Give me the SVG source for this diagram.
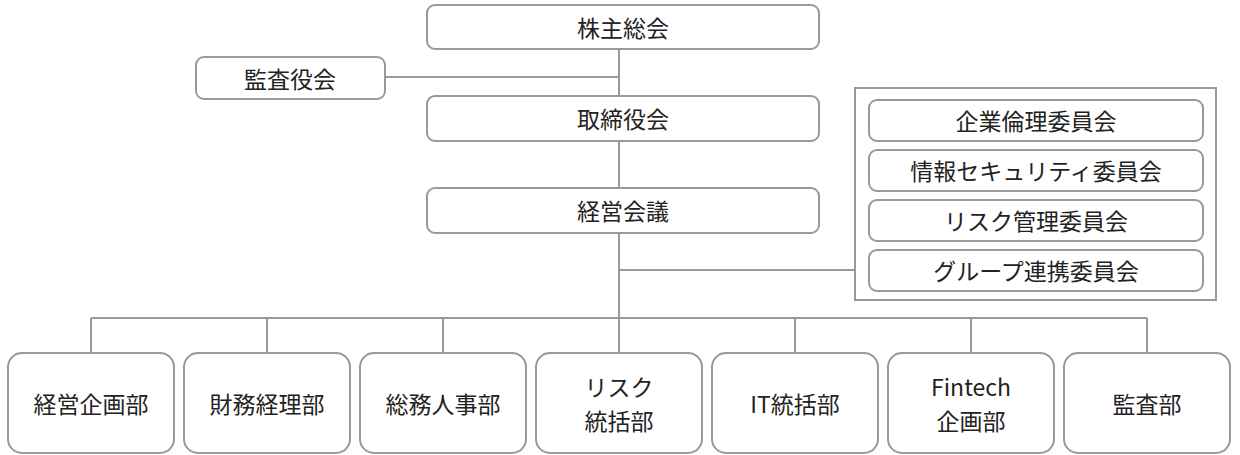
<svg xmlns="http://www.w3.org/2000/svg" width="1240" height="455" viewBox="0 0 1240 455">
<style>
.b{fill:#fff;stroke:#999;stroke-width:2}
.t{font-family:"Noto Sans CJK JP","Noto Sans",sans-serif;font-size:23px;fill:#222;text-anchor:middle;dominant-baseline:central}
.c{fill:none;stroke:#999;stroke-width:2}
</style>
<rect width="1240" height="455" fill="#fff"/>
<g id="connectors">
<path class="c" d="M619 49V353M385 77H619M619 270H855M91 318H1147M91 318V353M267 318V353M443 318V353M795 318V353M971 318V353M1147 318V353"/>
</g>
<g id="n1"><rect class="b" x="427" y="5" width="392" height="44" rx="8"/><text class="t" x="623" y="27">株主総会</text></g>
<g id="n2"><rect class="b" x="196" y="57" width="189" height="42" rx="8"/><text class="t" x="290" y="78">監査役会</text></g>
<g id="n3"><rect class="b" x="427" y="96" width="392" height="45" rx="8"/><text class="t" x="623" y="118">取締役会</text></g>
<g id="n4"><rect class="b" x="427" y="188" width="392" height="45" rx="8"/><text class="t" x="623" y="210">経営会議</text></g>
<g id="committees"><rect class="b" x="855" y="88" width="361" height="212"/>
<rect class="b" x="869" y="100" width="334" height="41" rx="8"/><text class="t" x="1036" y="120">企業倫理委員会</text>
<rect class="b" x="869" y="150" width="334" height="41" rx="8"/><text class="t" x="1036" y="170">情報セキュリティ委員会</text>
<rect class="b" x="869" y="200" width="334" height="41" rx="8"/><text class="t" x="1036" y="220">リスク管理委員会</text>
<rect class="b" x="869" y="250" width="334" height="41" rx="8"/><text class="t" x="1036" y="270">グループ連携委員会</text>
</g>
<g id="d1"><rect class="b" x="8" y="353" width="166" height="100" rx="14"/><text class="t" x="91" y="403">経営企画部</text></g>
<g id="d2"><rect class="b" x="184" y="353" width="166" height="100" rx="14"/><text class="t" x="267" y="403">財務経理部</text></g>
<g id="d3"><rect class="b" x="360" y="353" width="166" height="100" rx="14"/><text class="t" x="443" y="403">総務人事部</text></g>
<g id="d4"><rect class="b" x="536" y="353" width="166" height="100" rx="14"/><text class="t" x="619" y="386">リスク</text><text class="t" x="619" y="420">統括部</text></g>
<g id="d5"><rect class="b" x="712" y="353" width="166" height="100" rx="14"/><text class="t" x="795" y="403">IT統括部</text></g>
<g id="d6"><rect class="b" x="888" y="353" width="166" height="100" rx="14"/><text class="t" x="971" y="386">Fintech</text><text class="t" x="971" y="420">企画部</text></g>
<g id="d7"><rect class="b" x="1064" y="353" width="166" height="100" rx="14"/><text class="t" x="1147" y="403">監査部</text></g>
</svg>
